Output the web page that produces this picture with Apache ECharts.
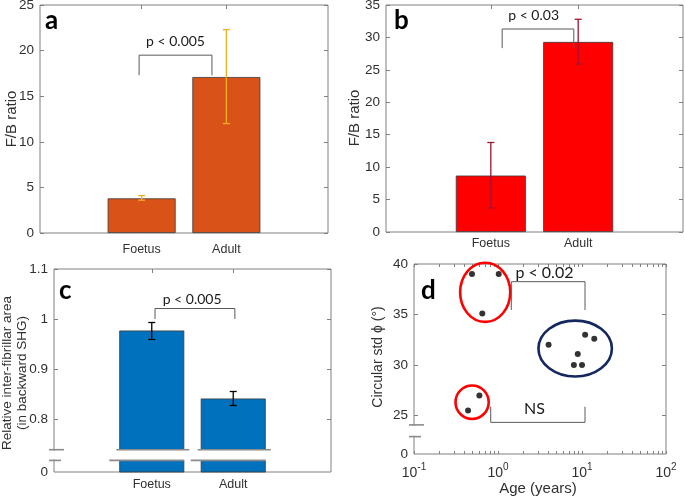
<!DOCTYPE html>
<html><head><meta charset="utf-8">
<script src="https://cdn.jsdelivr.net/npm/echarts@6/dist/echarts.min.js"></script>
<style>html,body{margin:0;padding:0;background:#fff}#c{width:685px;height:498px}</style>
</head><body><div id="c"></div>
<script>
// ---------- data ----------
const categories = ['Foetus', 'Adult'];
const catPos = [1, 2];

// panel a
const aValues = [3.8, 17.1];
const aErrLow = [3.6, 12.0];
const aErrHigh = [4.1, 22.3];
const aTicks = [0, 5, 10, 15, 20, 25];
const aBracket = [[0.97, 17.3], [0.97, 19.5], [1.83, 19.5], [1.83, 17.3]];
const aPText = [[1.40, 21.05]];
const aPLabel = ['p < 0.005'];

// panel b
const bValues = [8.7, 29.3];
const bErrLow = [3.7, 25.9];
const bErrHigh = [13.8, 32.8];
const bTicks = [0, 5, 10, 15, 20, 25, 30, 35];
const bBracket = [[1.13, 28.35], [1.13, 31.3], [1.95, 31.3], [1.95, 28.35]];
const bPText = [[1.49, 33.4]];
const bPLabel = ['p < 0.03'];

// panel c
const cValues = [0.977, 0.841];
const cErrLow = [0.959, 0.827];
const cErrHigh = [0.993, 0.855];
const cTicks = [0.8, 0.9, 1.0, 1.1];
const cMin = 0.694;            // shown as "0" (broken axis)
const cBreak = [0.7172, 0.7386];
const cBracket = [[1.04, 1.0], [1.04, 1.021], [2.02, 1.021], [2.02, 1.0]];
const cPText = [[1.495, 1.04]];
const cPLabel = ['p < 0.005'];

// panel d
const dAge = [0.49, 1.02, 0.65, 0.44, 0.60, 4.0, 10.9, 14.0, 8.9, 8.0, 10.0];
const dStd = [39.0, 39.0, 35.1, 25.5, 27.0, 32.0, 33.0, 32.6, 31.1, 30.0, 30.0];
const dYTicks = [25, 30, 35, 40];
const dMin = 21.2;             // shown as "0" (broken axis)
const dBreak = [22.92, 24.08];
const dXMajor = [0.1, 1, 10, 100];
const dXMinor = [0.2, 0.3, 0.4, 0.5, 0.6, 0.7, 0.8, 0.9, 2, 3, 4, 5, 6, 7, 8, 9, 20, 30, 40, 50, 60, 70, 80, 90];
// ellipse bounds [xLow, xHigh, yLow, yHigh]
const dEllipses = [[0.354, 1.40, 34.27, 40.13], [0.312, 0.775, 24.67, 27.98], [3.03, 22.7, 28.87, 34.40]];
const dBracketP = [[1.44, 35.45], [1.44, 38.25], [10.86, 38.25], [10.86, 35.45]];
const dBracketNS = [[0.819, 25.88], [0.819, 24.33], [10.86, 24.33], [10.86, 25.88]];
const dTexts = [[3.57, 39.14], [2.72, 25.62]];
const dLabels = ['p < 0.02', 'NS'];

// ---------- styling helpers ----------
const AX = '#808080';
const TXT = '#303030';
const FONT = 'Liberation Sans';
const ellipseColors = ['#ff0000', '#ff0000', '#14285f'];

function catAxis(grid, pos, labels, margin) {
  return {
    type: 'value', gridIndex: grid, position: pos, min: -0.2, max: 3.2,
    axisLine: { show: false, onZero: false }, splitLine: { show: false },
    axisTick: { show: true, inside: true, length: 4, lineStyle: { color: AX }, customValues: catPos },
    axisLabel: labels ? { show: true, customValues: catPos, margin: margin, color: TXT, fontFamily: FONT, fontSize: 12.5,
      formatter: v => categories[catPos.indexOf(v)] } : { show: false }
  };
}
function valAxis(grid, pos, min, max, ticks, labelVals, fmt) {
  return {
    type: 'value', gridIndex: grid, position: pos, min: min, max: max,
    axisLine: { show: false, onZero: false }, splitLine: { show: false },
    axisTick: { show: true, inside: true, length: 4, lineStyle: { color: AX }, customValues: ticks },
    axisLabel: labelVals ? { show: true, customValues: labelVals, margin: 6, color: TXT, fontFamily: FONT, fontSize: 13.5,
      formatter: fmt } : { show: false }
  };
}
function logAxis(grid, pos, labels) {
  return {
    type: 'log', logBase: 10, gridIndex: grid, position: pos, min: 0.1, max: 100,
    axisLine: { show: false, onZero: false }, splitLine: { show: false }, minorTick: { show: false },
    axisTick: { show: true, inside: true, length: 3, lineStyle: { color: AX }, customValues: dXMajor.concat(dXMinor) },
    axisLabel: labels ? {
      show: true, customValues: dXMajor, margin: 8, color: TXT, fontFamily: FONT,
      formatter: v => '{b|10}{s|' + Math.round(Math.log10(v)) + '}',
      rich: { b: { fontSize: 14, fontFamily: FONT, color: TXT, verticalAlign: 'bottom' },
              s: { fontSize: 10, fontFamily: FONT, color: TXT, verticalAlign: 'bottom', padding: [0, 0, 8, 0] } }
    } : { show: false }
  };
}
function barSeries(xi, vals, color, width) {
  return { type: 'bar', xAxisIndex: xi, yAxisIndex: xi, data: catPos.map((x, i) => [x, vals[i]]),
    barWidth: width, clip: true, z: 2,
    itemStyle: { color: color, borderColor: '#3a3a3a', borderWidth: 0.8 } };
}
function errSeries(xi, lo, hi, color) {
  return { type: 'custom', xAxisIndex: xi, yAxisIndex: xi, z: 6,
    data: catPos.map((x, i) => [x, lo[i], hi[i]]),
    renderItem: (params, api) => {
      const x = api.value(0);
      const p1 = api.coord([x, api.value(1)]);
      const p2 = api.coord([x, api.value(2)]);
      const st = { stroke: color, lineWidth: 1.3 };
      const c = 3.5;
      return { type: 'group', children: [
        { type: 'line', shape: { x1: p1[0], y1: p1[1], x2: p2[0], y2: p2[1] }, style: st },
        { type: 'line', shape: { x1: p1[0] - c, y1: p1[1], x2: p1[0] + c, y2: p1[1] }, style: st },
        { type: 'line', shape: { x1: p2[0] - c, y1: p2[1], x2: p2[0] + c, y2: p2[1] }, style: st }
      ] };
    } };
}
function bracketSeries(xi, pts) {
  return { type: 'line', xAxisIndex: xi, yAxisIndex: xi, data: pts, symbol: 'none', z: 5,
    lineStyle: { color: '#5a5a5a', width: 1 }, silent: true };
}
function textSeries(xi, pts, labels, size) {
  return { type: 'custom', xAxisIndex: xi, yAxisIndex: xi, z: 7, data: pts,
    renderItem: (params, api) => {
      const p = api.coord([api.value(0), api.value(1)]);
      return { type: 'text', x: p[0], y: p[1], style: { text: labels[params.dataIndex], fontFamily: 'Lato',
        fontSize: size, fill: '#1a1a1a', align: 'center', verticalAlign: 'middle' } };
    } };
}
const BRK = '#8a8a8a';
function barBreakSeries(xi, brk, barW) {
  return { type: 'custom', xAxisIndex: xi, yAxisIndex: xi, z: 8, data: catPos.map(x => [x]),
    renderItem: (params, api) => {
      const x = api.value(0);
      const ph = api.coord([x, brk[1]]);
      const pl = api.coord([x, brk[0]]);
      const h = barW / 2;
      const st = { stroke: BRK, lineWidth: 1.6 };
      return { type: 'group', children: [
        { type: 'rect', shape: { x: ph[0] - h - 2, y: ph[1], width: barW + 4, height: pl[1] - ph[1] }, style: { fill: '#fff' } },
        { type: 'line', shape: { x1: ph[0] - h - 3, y1: ph[1], x2: ph[0] + h + 5, y2: ph[1] }, style: st },
        { type: 'line', shape: { x1: pl[0] - h - 10, y1: pl[1], x2: pl[0] + h, y2: pl[1] }, style: st }
      ] };
    } };
}
function axisBreakSeries(xi, xAt, brk) {
  return { type: 'custom', xAxisIndex: xi, yAxisIndex: xi, z: 8, data: [[xAt]],
    renderItem: (params, api) => {
      const ph = api.coord([api.value(0), brk[1]]);
      const pl = api.coord([api.value(0), brk[0]]);
      const st = { stroke: BRK, lineWidth: 1.6 };
      return { type: 'group', children: [
        { type: 'rect', shape: { x: ph[0] - 2, y: ph[1] + 1, width: 4, height: pl[1] - ph[1] - 2 }, style: { fill: '#fff' } },
        { type: 'line', shape: { x1: ph[0] - 5, y1: ph[1], x2: ph[0] + 10, y2: ph[1] }, style: st },
        { type: 'line', shape: { x1: pl[0] - 5, y1: pl[1], x2: pl[0] + 7, y2: pl[1] }, style: st }
      ] };
    } };
}

const gridBase = { show: true, borderColor: AX, borderWidth: 1, backgroundColor: 'transparent', containLabel: false, outerBoundsMode: 'none' };
const intFmt = v => String(v);

const option = {
  animation: false,
  backgroundColor: '#fff',
  grid: [
    Object.assign({ left: 40, top: 5, width: 288, height: 228 }, gridBase),
    Object.assign({ left: 386, top: 5, width: 297, height: 227 }, gridBase),
    Object.assign({ left: 54, top: 269, width: 277, height: 203 }, gridBase),
    Object.assign({ left: 414, top: 264, width: 252, height: 190 }, gridBase)
  ],
  xAxis: [
    catAxis(0, 'bottom', true, 10), catAxis(1, 'bottom', true, 5), catAxis(2, 'bottom', true, 6), logAxis(3, 'bottom', true),
    catAxis(0, 'top', false), catAxis(1, 'top', false), catAxis(2, 'top', false), logAxis(3, 'top', false)
  ],
  yAxis: [
    valAxis(0, 'left', 0, 25, aTicks, aTicks, intFmt),
    valAxis(1, 'left', 0, 35, bTicks, bTicks, intFmt),
    valAxis(2, 'left', cMin, 1.1, cTicks, [cMin].concat(cTicks), v => v < 0.75 ? '0' : String(Math.round(v * 10) / 10)),
    valAxis(3, 'left', dMin, 40, dYTicks, [dMin].concat(dYTicks), v => v < 24 ? '0' : String(v)),
    valAxis(0, 'right', 0, 25, aTicks, null), valAxis(1, 'right', 0, 35, bTicks, null),
    valAxis(2, 'right', cMin, 1.1, cTicks, null), valAxis(3, 'right', dMin, 40, dYTicks, null)
  ],
  series: [
    barSeries(0, aValues, '#d95319', 68), errSeries(0, aErrLow, aErrHigh, '#edb120'),
    bracketSeries(0, aBracket), textSeries(0, aPText, aPLabel, 14),
    barSeries(1, bValues, '#ff0000', 70), errSeries(1, bErrLow, bErrHigh, '#a2142f'),
    bracketSeries(1, bBracket), textSeries(1, bPText, bPLabel, 14),
    barSeries(2, cValues, '#0072bd', 65), errSeries(2, cErrLow, cErrHigh, '#000000'),
    bracketSeries(2, cBracket), textSeries(2, cPText, cPLabel, 14),
    barBreakSeries(2, cBreak, 65), axisBreakSeries(2, -0.2, cBreak),
    { type: 'scatter', xAxisIndex: 3, yAxisIndex: 3, data: dAge.map((a, i) => [a, dStd[i]]), symbol: 'circle', symbolSize: 6,
      itemStyle: { color: '#000' }, z: 6 },
    { type: 'custom', xAxisIndex: 3, yAxisIndex: 3, z: 5, data: dEllipses,
      renderItem: (params, api) => {
        const p1 = api.coord([api.value(0), api.value(3)]);
        const p2 = api.coord([api.value(1), api.value(2)]);
        return { type: 'ellipse', shape: { cx: (p1[0] + p2[0]) / 2, cy: (p1[1] + p2[1]) / 2, rx: Math.abs(p2[0] - p1[0]) / 2, ry: Math.abs(p2[1] - p1[1]) / 2 },
          style: { fill: 'none', stroke: ellipseColors[params.dataIndex], lineWidth: 2.6 } };
      } },
    bracketSeries(3, dBracketP), bracketSeries(3, dBracketNS),
    textSeries(3, dTexts, dLabels, 16),
    axisBreakSeries(3, 0.1, dBreak)
  ],
  graphic: [
    { type: 'text', x: 45, y: 21, style: { text: 'a', fontFamily: 'Lato', fontWeight: 'bold', fontSize: 26, fill: '#000', verticalAlign: 'middle' } },
    { type: 'text', x: 394, y: 21, style: { text: 'b', fontFamily: 'Lato', fontWeight: 'bold', fontSize: 26, fill: '#000', verticalAlign: 'middle' } },
    { type: 'text', x: 59, y: 291, style: { text: 'c', fontFamily: 'Lato', fontWeight: 'bold', fontSize: 26, fill: '#000', verticalAlign: 'middle' } },
    { type: 'text', x: 421, y: 291, style: { text: 'd', fontFamily: 'Lato', fontWeight: 'bold', fontSize: 26, fill: '#000', verticalAlign: 'middle' } },
    { type: 'text', x: 12, y: 119, rotation: Math.PI / 2, style: { text: 'F/B ratio', fontFamily: FONT, fontSize: 15, fill: TXT, align: 'center', verticalAlign: 'middle' } },
    { type: 'text', x: 355, y: 118, rotation: Math.PI / 2, style: { text: 'F/B ratio', fontFamily: FONT, fontSize: 15, fill: TXT, align: 'center', verticalAlign: 'middle' } },
    { type: 'text', x: 15, y: 373, rotation: Math.PI / 2, style: { text: 'Relative inter-fibrillar area\n(in backward SHG)', fontFamily: FONT, fontSize: 13.5, lineHeight: 15, fill: TXT, align: 'center', verticalAlign: 'middle' } },
    { type: 'text', x: 378, y: 357, rotation: Math.PI / 2, style: { text: 'Circular std \u03d5 (\u00b0)', fontFamily: FONT, fontSize: 14, fill: TXT, align: 'center', verticalAlign: 'middle' } },
    { type: 'text', x: 538, y: 489, style: { text: 'Age (years)', fontFamily: FONT, fontSize: 15, fill: TXT, align: 'center', verticalAlign: 'middle' } }
  ]
};
const chart = echarts.init(document.getElementById('c'), null, { renderer: 'canvas' });
chart.setOption(option);
</script>
</body></html>
